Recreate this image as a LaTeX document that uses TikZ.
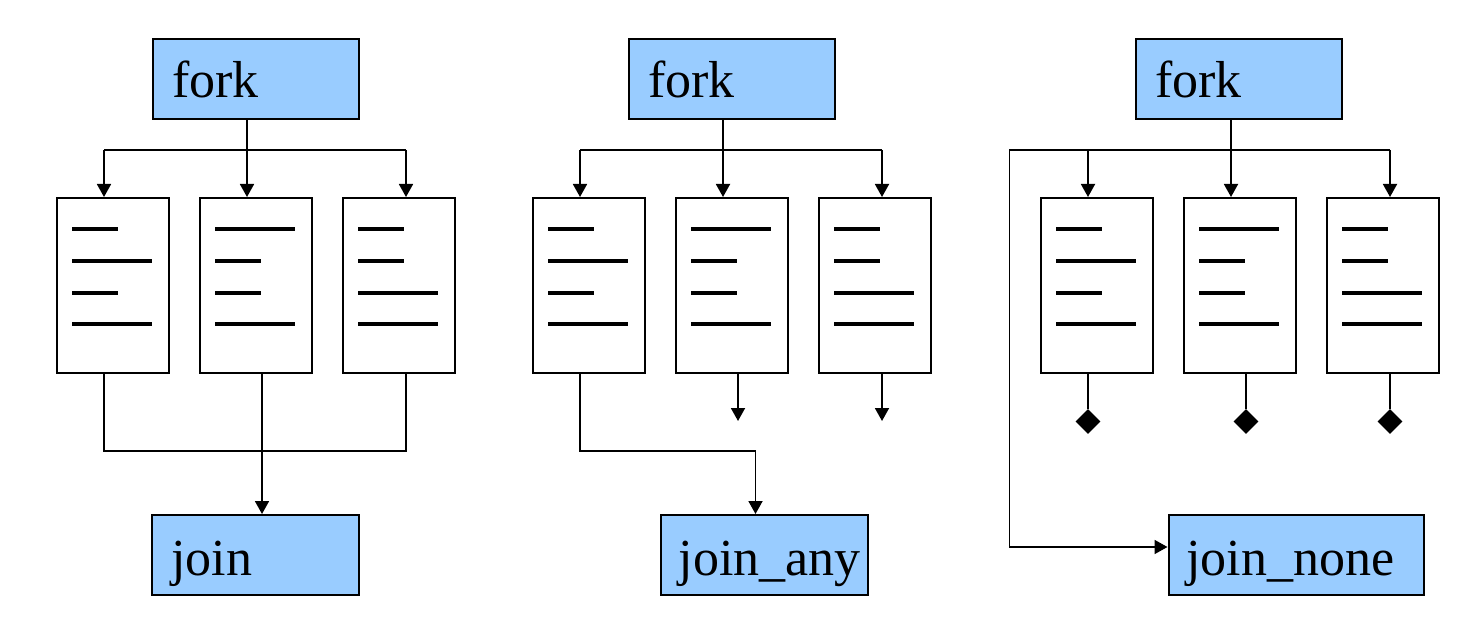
\documentclass[tikz,border=0pt]{standalone}
\usepackage{fontspec}
\setmainfont{Liberation Serif}
\usetikzlibrary{arrows.meta,shapes.geometric}
\definecolor{boxblue}{HTML}{99CCFF}
\tikzset{
 blk/.style={draw=black, line width=2pt, fill=boxblue, inner sep=0pt, minimum height=80pt, anchor=north west},
 lbl/.style={anchor=base west, inner sep=0pt, font=\fontsize{52}{60}\selectfont},
 proc/.style={draw=black, line width=2pt, fill=white, inner sep=0pt, minimum width=112pt, minimum height=175pt, anchor=north west},
 conn/.style={line width=1.8pt},
 arr/.style={conn, -{Triangle[length=13pt,width=14pt]}},
 txtline/.style={line width=3.3pt},
 dia/.style={diamond, fill=black, inner sep=0pt, minimum width=25pt, minimum height=25pt}
}
\begin{document}
\begin{tikzpicture}[x=1pt,y=-1pt]
\useasboundingbox (0,0) rectangle (1469,636);
% y levels
\coordinate (ya) at (0,150);
\coordinate (yb) at (0,451);
% process boxes
\foreach \p/\dx in {a/0,b/476,c/984} {
  \foreach \b/\bx in {1/56,2/199,3/342} {
    \node[proc] (\p\b) at (\bx+\dx,197) {};
  }
  \foreach \b/\la/\lb/\lc/\ld in {1/46/80/46/80, 2/80/46/46/80, 3/46/46/80/80} {
    \draw[txtline] ([shift={(16,32)}]\p\b.north west) -- ++(\la,0);
    \draw[txtline] ([shift={(16,64)}]\p\b.north west) -- ++(\lb,0);
    \draw[txtline] ([shift={(16,96)}]\p\b.north west) -- ++(\lc,0);
    \draw[txtline] ([shift={(16,127)}]\p\b.north west) -- ++(\ld,0);
  }
  % arrow entry points and exit points
  \coordinate (t\p1) at ([shift={(48,0)}]\p1.north west);
  \coordinate (t\p2) at ([shift={(48,0)}]\p2.north west);
  \coordinate (t\p3) at ([shift={(64,0)}]\p3.north west);
  \coordinate (b\p1) at ([shift={(48,0)}]\p1.south west);
  \coordinate (b\p2) at ([shift={(63,0)}]\p2.south west);
  \coordinate (b\p3) at ([shift={(64,0)}]\p3.south west);
}
% fork boxes
\node[blk, minimum width=206pt] (forka) at (152,38) {};
\node[lbl] (forkat) at (172,98) {fork};
\node[blk, minimum width=206pt] (forkb) at (628,38) {};
\node[lbl] (forkbt) at (648,98) {fork};
\node[blk, minimum width=206pt] (forkc) at (1135,38) {};
\node[lbl] (forkct) at (1155,98) {fork};
% join boxes
\node[blk, minimum width=207pt] (joina) at (151,514) {};
\node[lbl] (joinat) at (171,575) {join};
\node[blk, minimum width=207pt] (joinb) at (659.5,514) {};
\node[lbl] (joinbt) at (678.5,575) {join\_any};
\node[blk, minimum width=255pt] (joinc) at (1167.5,514) {};
\node[lbl] (joinct) at (1186,575) {join\_none};

% ---- panel a: fork / join
\draw[conn] (ta1 |- ya) -- (ta3 |- ya);
\draw[arr] (forka.south -| ta2) -- (ta2);
\draw[arr] (ta1 |- ya) -- (ta1);
\draw[arr] (ta3 |- ya) -- (ta3);
\draw[conn] (ba1) |- (ba3 |- yb) -- (ba3);
\draw[arr] (ba2) -- (ba2 |- joina.north);

% ---- panel b: fork / join_any
\draw[conn] (tb1 |- ya) -- (tb3 |- ya);
\draw[arr] (forkb.south -| tb2) -- (tb2);
\draw[arr] (tb1 |- ya) -- (tb1);
\draw[arr] (tb3 |- ya) -- (tb3);
\coordinate (jbn) at ([shift={(96,0)}]joinb.north west);
\draw[arr] (bb1) |- (jbn |- yb) -- (jbn);
\coordinate (eb2) at ([shift={(0,47)}]bb2);
\coordinate (eb3) at ([shift={(0,47)}]bb3);
\draw[arr] (bb2) -- (eb2);
\draw[arr] (bb3) -- (eb3);

% ---- panel c: fork / join_none
\coordinate (lc) at (1009.5,150);
\coordinate (jcw) at ([shift={(0,-8)}]joinc.west);
\draw[arr] (tc3 |- ya) -- (lc) |- (jcw);
\draw[arr] (forkc.south -| tc2) -- (tc2);
\draw[arr] (tc1 |- ya) -- (tc1);
\draw[arr] (tc3 |- ya) -- (tc3);
\foreach \b in {1,2,3} {
  \node[dia] (dc\b) at ([shift={(0,47.5)}]bc\b) {};
  \draw[line width=1.4pt] (bc\b) -- (dc\b.north);
}
\end{tikzpicture}
\end{document}
